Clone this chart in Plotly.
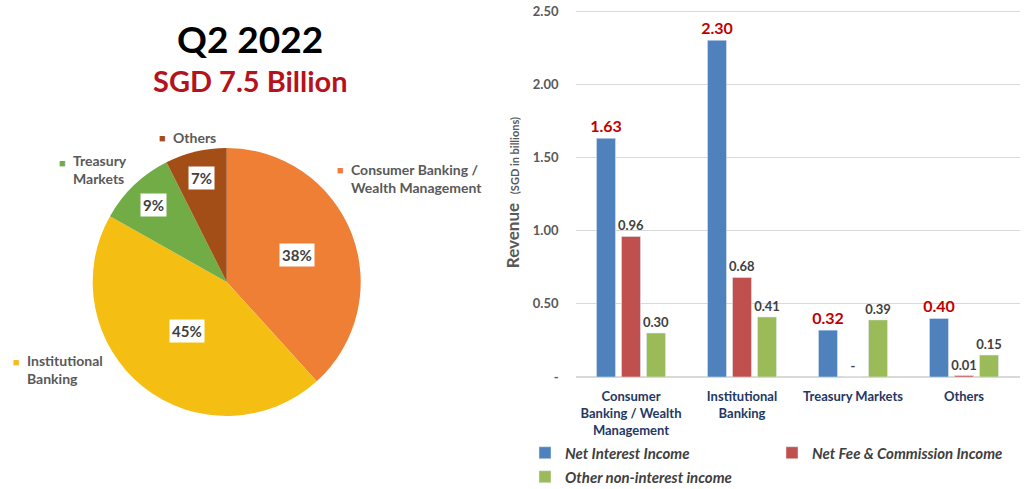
import math
import plotly.graph_objects as go

PAGE_OFF = 0                      # body margin is removed by the post_script below
W, H = 1024 - PAGE_OFF, 489 - PAGE_OFF

# ---------------- data ----------------
segments = ["Consumer Banking / Wealth Management", "Institutional Banking",
            "Treasury Markets", "Others"]
segment_label_lines = ["Consumer Banking /<br>Wealth Management", "Institutional<br>Banking",
                       "Treasury<br>Markets", "Others"]
pie_values = [2.89, 3.39, 0.71, 0.56]          # SGD bn per segment (slice sizes)

bar_categories = ["Consumer<br>Banking / Wealth<br>Management", "Institutional<br>Banking",
                  "Treasury Markets", "Others"]
net_interest = [1.63, 2.30, 0.32, 0.40]
net_fee = [0.96, 0.68, 0.00, 0.01]
other_nonint = [0.30, 0.41, 0.39, 0.15]

y_tickvals = [0, 0.5, 1.0, 1.5, 2.0, 2.5]
y_ticktext = ["-", "0.50", "1.00", "1.50", "2.00", "2.50"]

title_main = "Q2 2022"
title_sub = "SGD 7.5 Billion"

# ---------------- style ----------------
FONT = "Lato"
pie_colors = ["#EE7F35", "#F5BE12", "#71AC47", "#A34E17"]
bar_colors = ["#4F81BD", "#C0504D", "#9BBB59"]


def px_x(p):
    """window pixel x -> paper fraction"""
    return (p - PAGE_OFF) / W


def px_y(p):
    """window pixel y (from top) -> paper fraction"""
    return 1 - (p - PAGE_OFF) / H


PIE_CX, PIE_CY, PIE_R = 226.7, 282, 134        # window pixels
pie_domain_x = [px_x(PIE_CX - PIE_R), px_x(PIE_CX + PIE_R)]
pie_domain_y = [px_y(PIE_CY + PIE_R), px_y(PIE_CY - PIE_R)]
pct_label_radius = [0.56, 0.47, 0.79, 0.80]
# positions (window px) of the outside category labels: marker x, text x, centre y
cat_label_pos = [(340, 349, 178), (16, 25, 369), (62, 71, 170), (162, 171, 137)]

Y_MAX = 2.52                                     # small headroom so the 2.50 gridline is drawn
Y0_PX, Y250_PX = 377, 11
y_top_px = Y0_PX - (Y0_PX - Y250_PX) / 2.5 * Y_MAX


def fmt(v):
    return "-" if v == 0 else f"{v:.2f}"


fig = go.Figure()

fig.add_trace(go.Pie(
    labels=segments, values=pie_values, sort=False, direction="clockwise", rotation=0,
    marker=dict(colors=pie_colors, line=dict(width=0)),
    textinfo="none", showlegend=False, domain=dict(x=pie_domain_x, y=pie_domain_y),
    hoverinfo="label+percent",
))

series = [("Net Interest Income", net_interest, dict(color="#C00000", size=16, family=FONT, weight="bold"), "legend"),
          ("Net Fee & Commission Income", net_fee, dict(color="#404040", size=13, family=FONT, weight="bold"), "legend"),
          ("Other non-interest income", other_nonint, dict(color="#404040", size=13, family=FONT, weight="bold"), "legend2")]
for (name, vals, tf, lg), col in zip(series, bar_colors):
    fig.add_trace(go.Bar(
        x=bar_categories, y=vals, name=f"<b><i>{name}</i></b>", marker_color=col,
        text=[fmt(v) for v in vals], textposition="outside", textfont=tf,
        cliponaxis=False, constraintext="none", legend=lg,
    ))

annotations = [
    dict(text=f"<b>{title_main}</b>", x=px_x(250), y=px_y(38), xref="paper", yref="paper",
         xanchor="center", yanchor="middle", showarrow=False,
         font=dict(family=FONT, size=37, color="#000000")),
    dict(text=f"<b>{title_sub}</b>", x=px_x(250), y=px_y(81), xref="paper", yref="paper",
         xanchor="center", yanchor="middle", showarrow=False,
         font=dict(family=FONT, size=29, color="#B5121B")),
]

# percentage labels computed from slice angles
total = sum(pie_values)
cum = 0.0
for v, rf in zip(pie_values, pct_label_radius):
    mid = (cum + v / 2) / total * 2 * math.pi
    cum += v
    lx = PIE_CX + rf * PIE_R * math.sin(mid)
    ly = PIE_CY - rf * PIE_R * math.cos(mid)
    annotations.append(dict(
        text=f"<b>{round(v / total * 100)}%</b>", x=px_x(lx), y=px_y(ly), xref="paper", yref="paper",
        xanchor="center", yanchor="middle", showarrow=False, bgcolor="white", borderpad=2,
        font=dict(family=FONT, size=15, color="#404040")))

for lbl, col, (mx, tx, ty) in zip(segment_label_lines, pie_colors, cat_label_pos):
    n_lines = lbl.count("<br>") + 1
    first_y = ty - (n_lines - 1) * 8
    annotations.append(dict(text="■", x=px_x(mx), y=px_y(first_y), xref="paper", yref="paper",
                            xanchor="center", yanchor="middle",
                            showarrow=False, font=dict(size=11, color=col)))
    annotations.append(dict(text=lbl, x=px_x(tx), y=px_y(ty), xref="paper", yref="paper",
                            xanchor="left", yanchor="middle", align="left", showarrow=False,
                            font=dict(family=FONT, size=14, color="#595959", weight="bold")))

fig.update_layout(
    width=W, height=H, margin=dict(l=0, r=0, t=0, b=0, autoexpand=False),
    paper_bgcolor="white", plot_bgcolor="white",
    font=dict(family=FONT, color="#404040"),
    barmode="group", bargap=0.324, bargroupgap=0.24,
    xaxis=dict(domain=[px_x(575.5), px_x(1019.5)], showgrid=False, showline=False, ticks="",
               ticklabelstandoff=10,
               tickfont=dict(family=FONT, size=13, color="#1F3864", weight="bold")),
    yaxis=dict(domain=[px_y(Y0_PX), px_y(y_top_px)], range=[0, Y_MAX],
               tickvals=y_tickvals, ticktext=y_ticktext, ticklabeloverflow="allow",
               showgrid=True, gridcolor="#D9D9D9", gridwidth=1, zeroline=True, zerolinecolor="#D9D9D9",
               showline=False, ticks="", ticklabelstandoff=16,
               tickfont=dict(family=FONT, size=13, color="#595959", weight="bold"),
               title=dict(text="<b>Revenue</b>  <span style='font-size:11px'><b>(SGD in billions)</b></span>",
                          font=dict(family=FONT, size=17, color="#595959"), standoff=8)),
    legend=dict(orientation="h", x=px_x(525), y=px_y(453), xanchor="left", yanchor="middle",
                entrywidth=202, bgcolor="rgba(0,0,0,0)",
                font=dict(family=FONT, size=15, color="#404040")),
    legend2=dict(orientation="h", x=px_x(525), y=px_y(477), xanchor="left", yanchor="middle",
                 bgcolor="rgba(0,0,0,0)",
                 font=dict(family=FONT, size=15, color="#404040")),
    annotations=annotations,
)

fig.write_html("out.html", config={"displayModeBar": False},
               post_script="document.body.style.margin='0';document.body.style.overflow='hidden';")
